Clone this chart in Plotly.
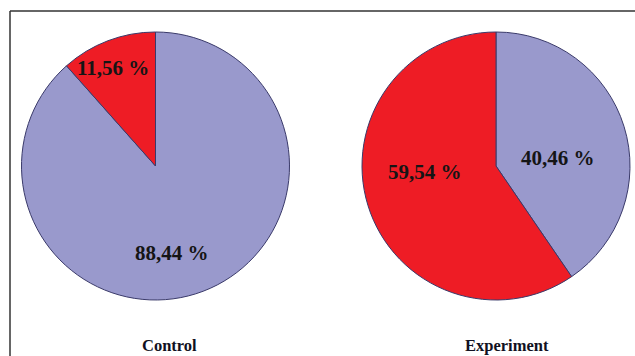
import plotly.graph_objects as go

groups = ["Control", "Experiment"]
slice_names = ["Blue", "Red"]
control_values = [88.44, 11.56]
experiment_values = [40.46, 59.54]

red = "#EE1C25"
blue = "#9999CC"
W, H = 635, 356
SERIF = "Liberation Serif, Times New Roman, serif"

def px_x(x):
    return x / W

def px_y(y):
    return 1 - y / H

fig = go.Figure()
centers = [(155.5, 166), (496, 166)]
R = 134
for vals, (cx, cy), name in zip([control_values, experiment_values], centers, groups):
    fig.add_trace(go.Pie(
        labels=slice_names, values=vals, sort=False, direction="clockwise",
        rotation=0, textinfo="none", hoverinfo="label+value",
        marker=dict(colors=[blue, red], line=dict(color="#3A3A6A", width=1)),
        domain=dict(x=[px_x(cx - R), px_x(cx + R)], y=[px_y(cy + R), px_y(cy - R)]),
        showlegend=False, name=name,
    ))

label_pos = [
    [(172, 253), (113, 68)],
    [(558, 158), (425, 172)],
]
for vals, poss in zip([control_values, experiment_values], label_pos):
    for v, (x, y) in zip(vals, poss):
        fig.add_annotation(
            x=px_x(x), y=px_y(y), xref="paper", yref="paper",
            xanchor="center", yanchor="middle",
            text="<b>" + f"{v:.2f}".replace(".", ",") + " %</b>", showarrow=False,
            font=dict(family=SERIF, size=21, color="#151515"),
        )

title_x = [169, 507]
for name, tx in zip(groups, title_x):
    fig.add_annotation(
        x=px_x(tx), y=px_y(345), xref="paper", yref="paper",
        xanchor="center", yanchor="middle",
        text=f"<b>{name}</b>", showarrow=False,
        font=dict(family=SERIF, size=16.5, color="#111122"),
    )

fig.add_shape(type="line", xref="paper", yref="paper",
              x0=px_x(10), x1=1, y0=px_y(11), y1=px_y(11),
              line=dict(color="#333333", width=1.5))
fig.add_shape(type="line", xref="paper", yref="paper",
              x0=px_x(10), x1=px_x(10), y0=px_y(11), y1=0,
              line=dict(color="#333333", width=1.5))

fig.update_layout(
    width=W, height=H, margin=dict(l=0, r=0, t=0, b=0),
    paper_bgcolor="white", plot_bgcolor="white",
    font=dict(family=SERIF),
)
fig.write_html("out.html")
